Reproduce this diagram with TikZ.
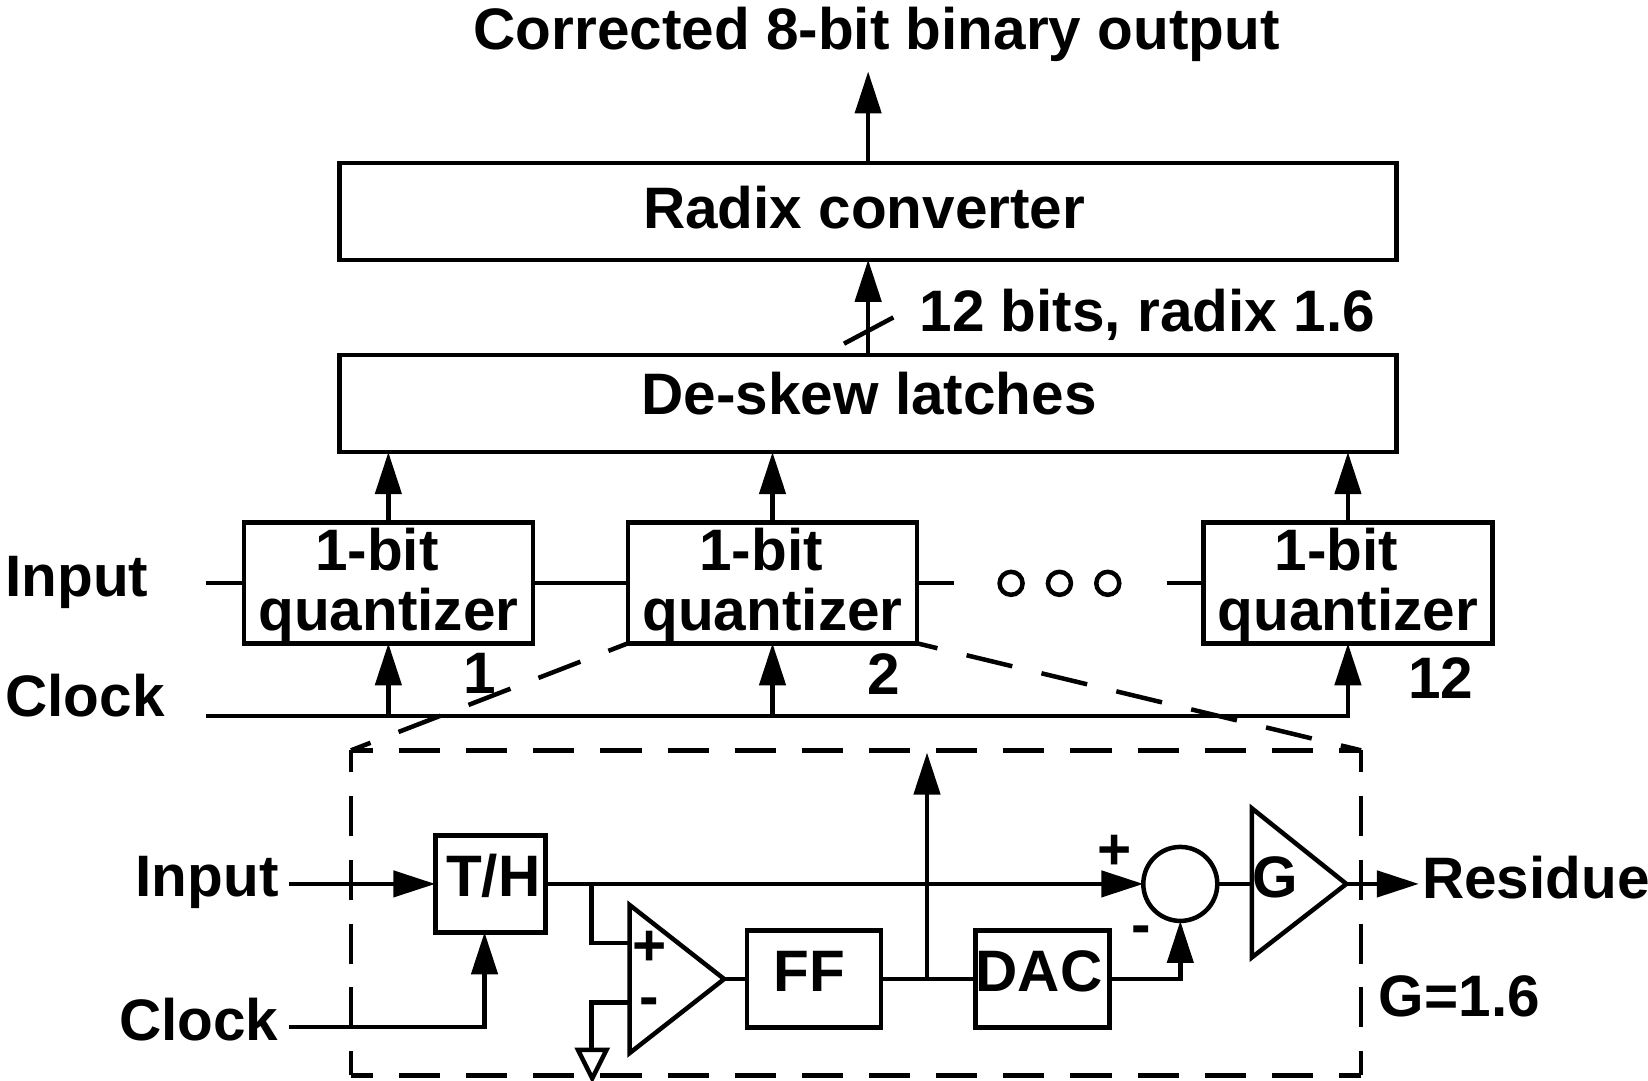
\documentclass[tikz,border=0pt]{standalone}
\usepackage{fontspec}
\setmainfont{Liberation Sans}
\usetikzlibrary{arrows.meta}
\newcommand{\placed}[3]{\makebox[0pt]{\kern#1pt\raisebox{#2pt}{\smash{#3}}}}
\newcommand{\quanttext}{\placed{0}{-24}{\begin{tabular}{@{}c@{}}1-bit\hspace*{23pt}\\quantizer\end{tabular}}}
\tikzset{
  wire/.style={line width=4.5pt,line cap=butt},
  sig/.style={wire,-{Triangle[length=42pt,width=26pt]}},
  lbl/.style={font=\fontsize{58.5pt}{60pt}\selectfont\bfseries,inner sep=0pt,outer sep=0pt,text=black},
  block/.style={draw,line width=4.5pt,inner sep=0pt,outer sep=0pt,font=\fontsize{58.5pt}{60pt}\selectfont\bfseries},
  wide/.style={block,minimum width=1057pt,minimum height=97pt},
  quant/.style={block,minimum width=289pt,minimum height=121pt},
  small/.style={block,minimum width=134pt,minimum height=97pt},
  dot/.style={draw,circle,line width=4.5pt,minimum size=23pt,inner sep=0pt,outer sep=0pt},
  frameH/.style={wire,dash pattern=on 41.14pt off 26pt,dash phase=19.14pt},
  frameV/.style={wire,dash pattern=on 40pt off 23.75pt,dash phase=18pt},
}
\begin{document}
\begin{tikzpicture}[x=1.051pt,y=-1.051pt]
\useasboundingbox (0,0) rectangle (1568,1028.5);
% top
\node[lbl] (title) at (834,33) {Corrected 8-bit binary output};
\coordinate (outtip) at (826,68);
\node[wide] (radix) at (826,201) {\placed{-8}{-34}{Radix converter}};
\node[wide] (deskew) at (826,384) {\placed{2}{-22}{De-skew latches}};
\node[lbl,anchor=west] (bits) at (875,300) {12 bits, radix 1.6};
\draw[sig] (radix.north) -- (outtip);
\draw[sig] (deskew.north) -- (radix.south);
\coordinate (slasha) at (803,327);
\coordinate (slashb) at (850,302);
\draw[wire] (slasha) -- (slashb);
% quantizers
\node[quant] (q1) at (369.5,554.5) {\quanttext};
\node[quant] (q2) at (735,554.5) {\quanttext};
\node[quant] (q3) at (1282.5,554.5) {\quanttext};
\draw[sig] (q1.north) -- (q1.north |- deskew.south);
\draw[sig] (q2.north) -- (q2.north |- deskew.south);
\draw[sig] (q3.north) -- (q3.north |- deskew.south);
% input chain
\node[lbl,anchor=west] (inputA) at (5,554) {Input};
\node[lbl,anchor=west] (clockA) at (5,662) {Clock};
\coordinate (instart) at (196,554.5);
\coordinate (instop) at (908,554.5);
\coordinate (inresume) at (1110,554.5);
\draw[wire] (instart) -- (q1.west);
\draw[wire] (q1.east) -- (q2.west);
\draw[wire] (q2.east) -- (instop);
\draw[wire] (inresume) -- (q3.west);
\node[dot] (d1) at (962,555) {};
\node[dot] (d2) at (1008,555) {};
\node[dot] (d3) at (1054,555) {};
% clock
\coordinate (clkstart) at (196,681);
\coordinate (clkend) at (1282.5,681);
\draw[wire] (clkstart) -- ([xshift=2.25pt]clkend);
\draw[sig] (clkend) -- (q3.south);
\draw[sig] (q1.south |- clkstart) -- (q1.south);
\draw[sig] (q2.south |- clkstart) -- (q2.south);
\node[lbl] (n1) at (456,641) {1};
\node[lbl] (n2) at (841,641) {2};
\node[lbl] (n12) at (1371,645) {12};
% zoom frame
\node[minimum width=1010pt,minimum height=325pt,inner sep=0pt,outer sep=0pt] (frame) at (814.5,868.5) {};
\draw[frameH] (frame.north west) -- (frame.north east);
\draw[frameH] (frame.south west) -- (frame.south east);
\draw[frameV] (frame.north west) -- (frame.south west);
\draw[frameV] (frame.north east) -- (frame.south east);
\draw[wire,dash pattern=on 45pt off 30pt,dash phase=24pt] (q2.south west) -- (frame.north west);
\draw[wire,dash pattern=on 47pt off 30pt,dash phase=26pt] (q2.south east) -- (frame.north east);
% detail
\node[lbl,anchor=east] (inputB) at (265,840) {Input};
\node[lbl,anchor=east] (clockB) at (265,970) {Clock};
\node[small,minimum width=110pt] (th) at (466.5,841) {\placed{6}{-26}{T/H}};
\node[small] (ff) at (774.5,931.5) {\placed{-10}{-25}{FF}};
\node[small] (dac) at (992,931.5) {\placed{-7}{-24}{DAC}};
\coordinate (inb) at (275,841);
\coordinate (clkb) at (275,977);
\draw[sig] (inb) -- (th.west);
\coordinate (thclk) at (461,977);
\coordinate (thclktip) at (461,887);
\draw[wire] (clkb) -- ([xshift=2.25pt]thclk);
\draw[sig] (thclk) -- (thclktip);
% comparator
\coordinate (cmpT) at (599,861);
\coordinate (cmpB) at (599,1002);
\coordinate (cmpTip) at (689,931.5);
\draw[wire,line join=miter] (cmpT) -- (cmpTip) -- (cmpB) -- cycle;
\node[lbl] (cmpplus) at (618,902) {+};
\node[lbl] (cmpminus) at (618,958) {-};
\coordinate (tap) at (563,841);
\coordinate (cmpP) at (599,897);
\coordinate (cmpM) at (599,954);
\coordinate (gndtop) at (563,999);
\coordinate (gndL) at (550,999);
\coordinate (gndR) at (577,999);
\coordinate (gndtip) at (563.5,1026);
\draw[wire,line join=miter] (tap) -- (tap |- cmpP) -- (cmpP);
\draw[wire,line join=miter] (cmpM) -- (gndtop |- cmpM) -- (gndtop);
\draw[wire,line join=miter] (gndL) -- (gndR) -- (gndtip) -- cycle;
\draw[wire] (cmpTip) -- (ff.west);
% summer and gain
\node[draw,circle,line width=4.5pt,minimum size=74pt,inner sep=0pt,outer sep=0pt] (sum) at (1123,841) {};
\draw[sig] (th.east) -- (sum.west);
\node[lbl] (plus) at (1060,811) {+};
\node[lbl] (minus) at (1086,890) {-};
\coordinate (node) at (882,931.5);
\coordinate (midtip) at (882,716);
\draw[wire] (ff.east) -- (dac.west);
\draw[sig] (node) -- (midtip);
\coordinate (dacturn) at (1123,931.5);
\draw[wire] (dac.east) -- ([xshift=2.25pt]dacturn);
\draw[sig] (dacturn) -- (sum.south);
\coordinate (gT) at (1191,769);
\coordinate (gB) at (1191,911);
\coordinate (gTip) at (1281,841);
\draw[wire,line join=miter] (gT) -- (gTip) -- (gB) -- cycle;
\node[lbl] (gl) at (1213,835) {G};
\draw[wire] (sum.east) -- (sum.east -| gT);
\coordinate (restip) at (1350,841);
\draw[sig] (gTip) -- (restip);
\node[lbl,anchor=west] (residue) at (1353,835) {Residue};
\node[lbl,anchor=west] (gval) at (1312,948) {G=1.6};
\end{tikzpicture}
\end{document}
